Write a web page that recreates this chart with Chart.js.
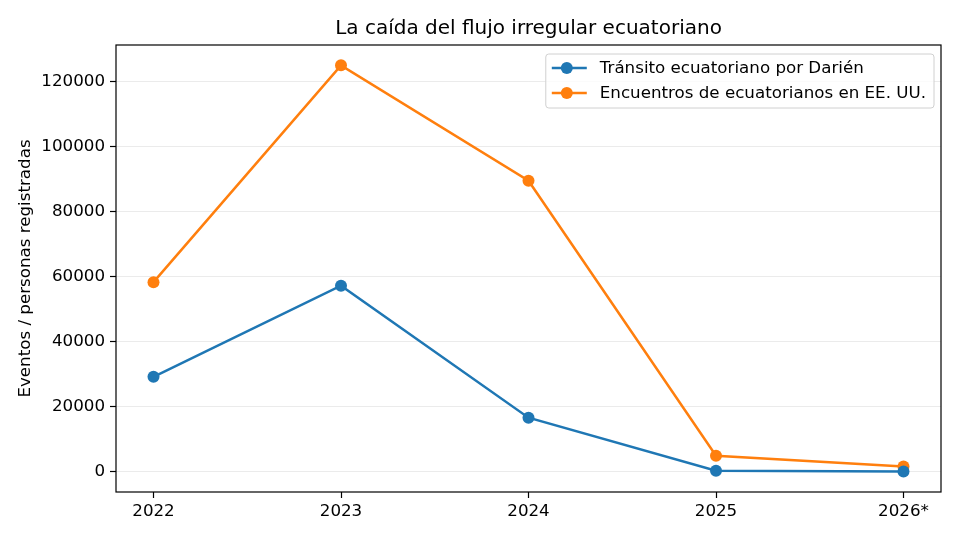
<!DOCTYPE html>
<html>
<head>
<meta charset="utf-8">
<title>La caída del flujo irregular ecuatoriano</title>
<script src="https://cdn.jsdelivr.net/npm/chart.js"></script>
<style>
  html, body { margin: 0; padding: 0; background: #fff; }
  #wrap { width: 960px; height: 541px; }
</style>
</head>
<body>
<div id="wrap"><canvas id="chart" width="960" height="541"></canvas></div>
<script>
// datos
const years = ['2022', '2023', '2024', '2025', '2026*'];
const darien = [29200, 57200, 16600, 300, 50];
const encuentros = [58300, 125000, 89500, 4900, 1600];
const yTicks = [0, 20000, 40000, 60000, 80000, 100000, 120000];

const seriesNames = ['Tránsito ecuatoriano por Darién', 'Encuentros de ecuatorianos en EE. UU.'];
const colors = ['#1f77b4', '#ff7f0e'];
const FONT = 'DejaVu Sans';
const FS = 16.7;

function toPoints(arr) {
  return arr.map((v, i) => ({ x: i, y: v }));
}

// marco negro alrededor del área + leyenda estilo matplotlib
const frameLegend = {
  id: 'frameLegend',
  afterLayout(chart) {
    // centrar el título sobre el área del gráfico (como matplotlib)
    const a = chart.chartArea;
    const tb = chart.titleBlock;
    if (tb) {
      tb.left = a.left;
      tb.right = a.right;
      tb.width = a.right - a.left;
    }
  },
  afterDraw(chart) {
    const ctx = chart.ctx;
    const a = chart.chartArea;
    ctx.save();
    ctx.strokeStyle = '#000';
    ctx.lineWidth = 1.2;
    ctx.strokeRect(a.left, a.top, a.right - a.left, a.bottom - a.top);

    ctx.font = FS + 'px "' + FONT + '"';
    const tw = Math.max(...seriesNames.map(n => ctx.measureText(n).width));
    const w = 54 + tw + 8;
    const h = 54;
    const x0 = a.right - 7 - w;
    const y0 = a.top + 9;
    ctx.beginPath();
    ctx.roundRect(x0, y0, w, h, 3);
    ctx.fillStyle = 'rgba(255,255,255,0.8)';
    ctx.fill();
    ctx.strokeStyle = '#d0d0d0';
    ctx.lineWidth = 1;
    ctx.stroke();

    seriesNames.forEach((name, i) => {
      const yy = y0 + 14 + i * 25;
      ctx.strokeStyle = colors[i];
      ctx.lineWidth = 2.5;
      ctx.beginPath();
      ctx.moveTo(x0 + 6, yy);
      ctx.lineTo(x0 + 41, yy);
      ctx.stroke();
      ctx.fillStyle = colors[i];
      ctx.beginPath();
      ctx.arc(x0 + 21, yy, 6, 0, Math.PI * 2);
      ctx.fill();
      ctx.fillStyle = '#000';
      ctx.textBaseline = 'middle';
      ctx.textAlign = 'left';
      ctx.fillText(name, x0 + 54, yy + 1);
    });
    ctx.restore();
  }
};

function lineSet(i, values) {
  return {
    label: seriesNames[i],
    data: toPoints(values),
    borderColor: colors[i],
    backgroundColor: colors[i],
    borderWidth: 2.5,
    pointRadius: 6,
    pointHoverRadius: 6,
    pointBorderWidth: 0,
    tension: 0
  };
}

new Chart(document.getElementById('chart'), {
  type: 'line',
  data: {
    datasets: [lineSet(0, darien), lineSet(1, encuentros)]
  },
  options: {
    responsive: false,
    animation: false,
    events: [],
    layout: { padding: { left: 16, right: 19, top: 0, bottom: 0 } },
    plugins: {
      legend: { display: false },
      tooltip: { enabled: false },
      title: {
        display: true,
        text: 'La caída del flujo irregular ecuatoriano',
        color: '#000',
        font: { family: FONT, size: 20, weight: 'normal' },
        padding: { top: 17, bottom: 4 }
      }
    },
    scales: {
      x: {
        type: 'linear',
        min: -0.2,
        max: 4.2,
        afterBuildTicks(scale) {
          scale.ticks = years.map((_, i) => ({ value: i }));
        },
        afterFit(scale) { scale.height = 49; },
        border: { display: false },
        grid: { drawOnChartArea: false, tickLength: 6, tickColor: '#000', tickWidth: 1.2 },
        ticks: {
          color: '#000',
          font: { family: FONT, size: FS },
          padding: 4,
          maxRotation: 0,
          callback: v => years[v]
        }
      },
      y: {
        min: -6250,
        max: 131250,
        afterBuildTicks(scale) {
          scale.ticks = yTicks.map(v => ({ value: v }));
        },
        afterFit(scale) { scale.width = 100; },
        border: { display: false },
        grid: { color: 'rgba(0,0,0,0.08)', lineWidth: 1, tickLength: 6, tickColor: '#000', tickWidth: 1.2 },
        ticks: {
          color: '#000',
          font: { family: FONT, size: FS },
          padding: 5,
          callback: v => String(v)
        },
        title: {
          display: true,
          text: 'Eventos / personas registradas',
          color: '#000',
          font: { family: FONT, size: FS },
          padding: { top: 0, bottom: 0 }
        }
      }
    }
  },
  plugins: [frameLegend]
});
</script>
</body>
</html>
